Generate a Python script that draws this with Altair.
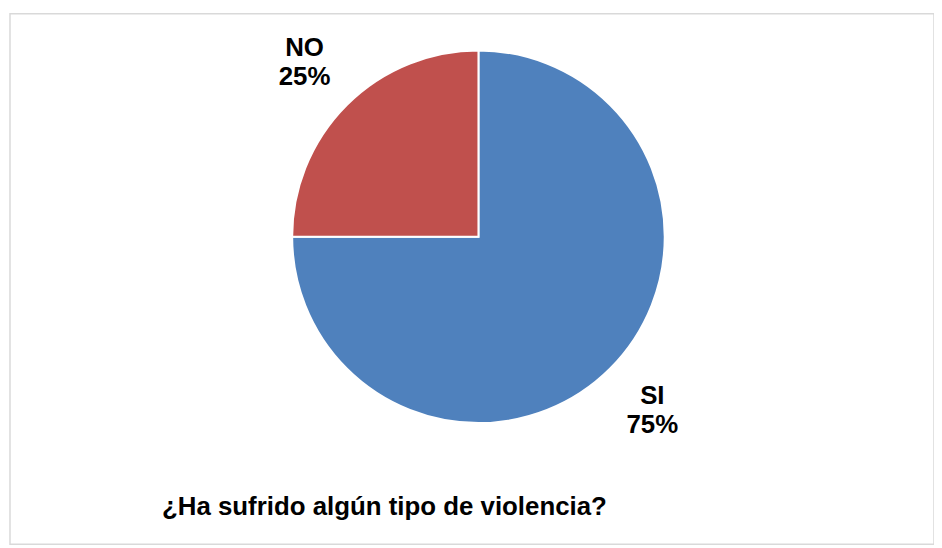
import altair as alt
import pandas as pd

categories = ["SI", "NO"]
values = [75, 25]
colors = ["#4F81BD", "#C0504D"]
title_text = "¿Ha sufrido algún tipo de violencia?"

df = pd.DataFrame({"cat": categories, "val": values, "ord": [0, 1]})
df["label"] = df["cat"] + "\n" + df["val"].astype(str) + "%"

CX, CY = 471.5, 224.5

base = alt.Chart(df).encode(
    theta=alt.Theta("val:Q", stack=True),
    order=alt.Order("ord:Q"),
)

pie = base.mark_arc(outerRadius=187.5, stroke="white", strokeWidth=2, x=CX, y=CY).encode(
    color=alt.Color("cat:N", scale=alt.Scale(domain=categories, range=colors), legend=None)
)

labels = base.mark_text(
    radius=247.5, x=CX, y=CY, dy=-14.5, font="Liberation Sans", fontSize=26, fontWeight="bold",
    lineBreak="\n", lineHeight=29, color="black", align="center", baseline="middle"
).encode(text="label:N")

title = alt.Chart(pd.DataFrame({"t": [title_text]})).mark_text(
    font="Liberation Sans", fontSize=26, fontWeight="bold", align="left",
    baseline="alphabetic", color="black"
).encode(x=alt.value(153), y=alt.value(505), text="t:N")

chart = alt.layer(pie, labels, title).properties(
    width=930, height=534, padding={"left": 2, "top": 4, "right": 0, "bottom": 0},
    autosize=alt.AutoSizeParams(type="none"),
).configure_view(stroke="#D9D9D9", strokeWidth=1.5)

chart.save("out.html", embed_options={"renderer": "svg", "actions": False})
